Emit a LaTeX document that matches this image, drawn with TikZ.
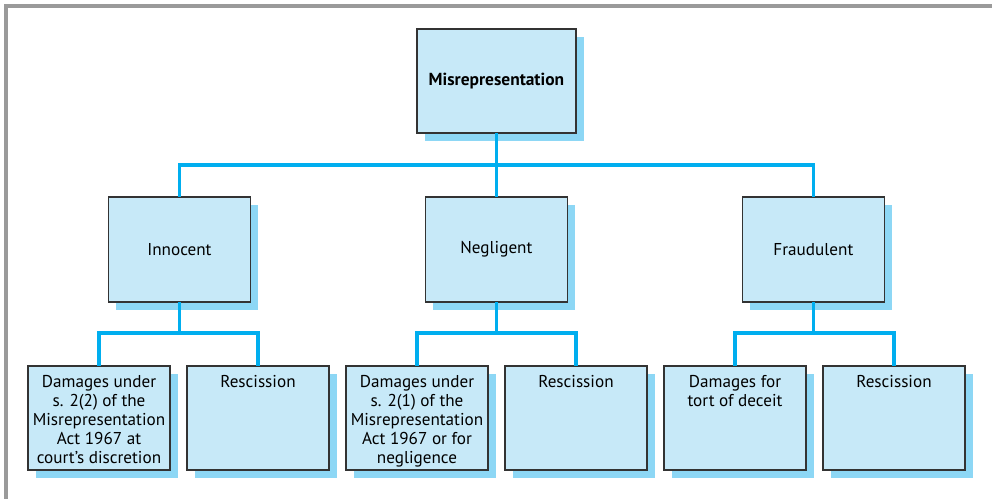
\documentclass[tikz,border=0pt]{standalone}
\usepackage{fontspec}
\setmainfont{PT Sans}
\usepackage{xcolor}
\usetikzlibrary{positioning, shadows}

\definecolor{boxfill}{HTML}{C7E9F8}
\definecolor{shadowfill}{HTML}{8DD7F5}
\definecolor{boxborder}{HTML}{333333}
\definecolor{linkcyan}{HTML}{00AEEF}
\definecolor{framegray}{HTML}{9A9A9A}

\newcommand{\leaftext}[1]{\parbox[c][2.15cm][t]{3.5cm}{\centering #1}}

\begin{document}
\begin{tikzpicture}[
    node distance=1.6cm,
    box/.style={rectangle, draw=boxborder, line width=0.9pt, outer sep=0pt, fill=boxfill, general shadow={fill=shadowfill, shadow xshift=0.19cm, shadow yshift=-0.19cm}, font=\fontsize{12.2}{13.5}\selectfont, align=center},
    rootbox/.style={box, minimum width=3.975cm, minimum height=2.6cm, font=\fontsize{12.4}{13.5}\selectfont\bfseries},
    kindbox/.style={box, minimum width=3.55cm, minimum height=2.625cm},
    leafbox/.style={box, minimum width=3.55cm, minimum height=2.6cm, inner sep=0pt},
    link/.style={draw=linkcyan, line width=2.2pt},
    frame/.style={draw=framegray, line width=2.2pt}
]
\useasboundingbox (0,0) rectangle (24.8,-12.475);
\draw[frame] (0.15,-12.475) -- (0.15,-0.15) -- (24.8,-0.15);

\node[rootbox] (misrep) at (12.41,-2.025) {Misrepresentation};
\node[kindbox, below=of misrep] (negligent) {Negligent};
\node[kindbox, left=4.375cm of negligent] (innocent) {Innocent};
\node[kindbox, right=4.375cm of negligent] (fraudulent) {Fraudulent};

\node[leafbox] (dmginnocent) at (2.475,-10.45) {\leaftext{Damages under\\ s. 2(2) of the\\ Misrepresentation\\ Act 1967 at\\ court's discretion}};
\node[leafbox, right=0.425cm of dmginnocent] (rescinnocent) {\leaftext{Rescission}};
\node[leafbox, right=0.425cm of rescinnocent] (dmgnegligent) {\leaftext{Damages under\\ s. 2(1) of the\\ Misrepresentation\\ Act 1967 or for\\ negligence}};
\node[leafbox, right=0.425cm of dmgnegligent] (rescnegligent) {\leaftext{Rescission}};
\node[leafbox, right=0.425cm of rescnegligent] (dmgfraudulent) {\leaftext{Damages for\\ tort of deceit}};
\node[leafbox, right=0.425cm of dmgfraudulent] (rescfraudulent) {\leaftext{Rescission}};

% Connectors
\draw[link] (misrep) -- (negligent);
\draw[link] (innocent.north) -- ++(0,0.8) -| (fraudulent.north);
\draw[link] (innocent) -- ++(0,-2.1);
\draw[link] (dmginnocent.north) -- ++(0,0.825) -| (rescinnocent.north);
\draw[link] (negligent) -- ++(0,-2.1);
\draw[link] (dmgnegligent.north) -- ++(0,0.825) -| (rescnegligent.north);
\draw[link] (fraudulent) -- ++(0,-2.1);
\draw[link] (dmgfraudulent.north) -- ++(0,0.825) -| (rescfraudulent.north);

\end{tikzpicture}
\end{document}
